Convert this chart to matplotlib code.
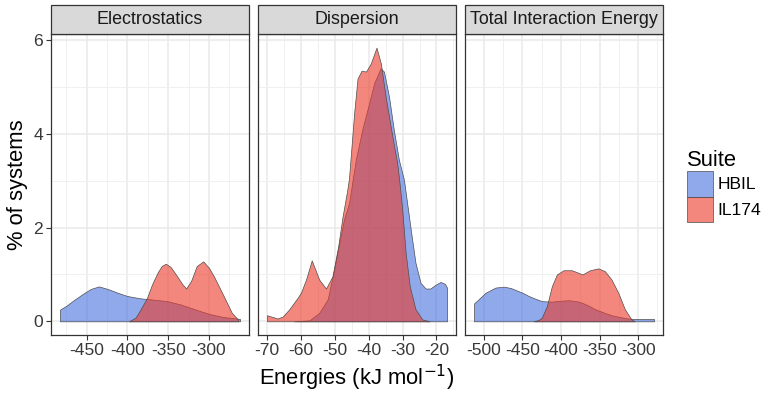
import matplotlib
matplotlib.use('Agg')
import matplotlib.pyplot as plt
from matplotlib.patches import Patch, Rectangle
from matplotlib.ticker import MultipleLocator

plt.rcParams['font.family'] = ['Liberation Sans', 'DejaVu Sans']
plt.rcParams['axes.unicode_minus'] = False

# facet names and suites
facets = ['Electrostatics', 'Dispersion', 'Total Interaction Energy']
suites = ['HBIL', 'IL174']
suite_colors = ['#4470DF', '#EB3828']

# density curves (energy in kJ/mol, % of systems)
elec_hbil_x = [-482.6, -475, -465, -455, -445, -435, -424, -412, -400, -384, -372,
               -351, -335, -323, -311, -298, -282, -266, -262]
elec_hbil_y = [0.25, 0.33, 0.46, 0.58, 0.69, 0.745, 0.69, 0.61, 0.54, 0.49, 0.47,
               0.43, 0.36, 0.29, 0.22, 0.15, 0.09, 0.06, 0.05]
elec_il174_x = [-398, -390, -384, -376, -370, -363, -358, -353, -347, -339, -333,
                -328, -322, -315, -307, -300, -294, -288, -282, -272, -264]
elec_il174_y = [0.0, 0.08, 0.25, 0.50, 0.78, 1.04, 1.18, 1.23, 1.16, 0.96, 0.80,
                0.70, 0.86, 1.18, 1.28, 1.14, 0.96, 0.75, 0.54, 0.18, 0.03]

disp_hbil_x = [-62, -57.5, -54.6, -52.1, -50.2, -48.7, -47.3, -45.8, -43.8, -41.9,
               -39.9, -38.4, -36.5, -35.5, -34, -32.6, -31.1, -29.6, -27.6, -26.2,
               -24.7, -23.2, -21.8, -20.3, -18.8, -17.5, -16.9]
disp_hbil_y = [0.0, 0.02, 0.18, 0.47, 1.1, 1.67, 2.17, 2.52, 3.45, 4.09,
               4.65, 5.08, 5.40, 5.33, 4.79, 4.09, 3.45, 3.02, 1.96, 1.25,
               0.82, 0.70, 0.70, 0.78, 0.84, 0.80, 0.72]
disp_il174_x = [-70, -66.9, -65.4, -63.4, -61, -60, -58.5, -56.8, -54.6, -52.6, -50.7,
                -49, -47.7, -46.3, -45.8, -44.3, -43.3, -42.1, -40.8, -39.4, -37.7,
                -36.4, -35, -33, -31.6, -30.9, -30.1, -29.1, -27.9, -26.2, -24.2, -22]
disp_il174_y = [0.13, 0.06, 0.10, 0.26, 0.50, 0.61, 0.89, 1.30, 0.89, 0.70, 0.96,
                1.6, 2.24, 2.81, 3.06, 4.44, 5.18, 5.35, 5.33, 5.50, 5.84,
                5.50, 4.79, 3.94, 3.38, 2.95, 2.38, 1.46, 0.75, 0.26, 0.04, 0.0]

tot_hbil_x = [-512.9, -505, -497.9, -485, -474.2, -465, -459.2, -450, -441.9, -433,
              -424.8, -412, -400, -390.3, -380, -373.2, -365, -356, -345, -334.5,
              -323, -313, -304.4, -290, -279.4]
tot_hbil_y = [0.38, 0.50, 0.61, 0.72, 0.74, 0.71, 0.67, 0.61, 0.54, 0.48,
              0.43, 0.42, 0.44, 0.45, 0.43, 0.40, 0.34, 0.26, 0.19, 0.13,
              0.09, 0.06, 0.05, 0.05, 0.05]
tot_il174_x = [-435.5, -429, -424.8, -418.3, -411.9, -405.4, -396.8, -386, -379.6,
               -372.3, -362.4, -351.6, -343.1, -334.5, -325.8, -317.3, -308.7, -304.4]
tot_il174_y = [0.0, 0.03, 0.08, 0.33, 0.75, 1.0, 1.09, 1.09, 1.05,
               1.0, 1.09, 1.13, 1.07, 0.89, 0.61, 0.26, 0.04, 0.0]

x_ticks = [[-450, -400, -350, -300], [-70, -60, -50, -40, -30, -20],
           [-500, -450, -400, -350, -300]]
y_ticks = [0, 2, 4, 6]

curves = [
    [(elec_hbil_x, elec_hbil_y), (elec_il174_x, elec_il174_y)],
    [(disp_hbil_x, disp_hbil_y), (disp_il174_x, disp_il174_y)],
    [(tot_hbil_x, tot_hbil_y), (tot_il174_x, tot_il174_y)],
]

W, H = 765, 396
fig, axes = plt.subplots(1, 3, figsize=(W / 100, H / 100), dpi=100, sharey=True)
fig.subplots_adjust(left=51 / W, right=663 / W, bottom=1 - 335 / H, top=1 - 34 / H,
                    wspace=9 / 197.6)

ymax = max(max(y) for panel in curves for _, y in panel)

for i, ax in enumerate(axes):
    for (xs, ys), col in zip(curves[i], suite_colors):
        ax.fill_between(xs, ys, 0, facecolor=matplotlib.colors.to_rgba(col, 0.6),
                        edgecolor='#4D4D4D', linewidth=0.5, zorder=3)
    allx = [v for xs, _ in curves[i] for v in xs]
    lo, hi = min(allx), max(allx)
    pad = 0.05 * (hi - lo)
    ax.set_xlim(lo - pad, hi + pad)
    ax.set_ylim(-0.05 * ymax, 1.05 * ymax)

    step = x_ticks[i][1] - x_ticks[i][0]
    ax.set_xticks(x_ticks[i])
    ax.xaxis.set_minor_locator(MultipleLocator(step / 2))
    ax.yaxis.set_minor_locator(MultipleLocator(1))
    ax.set_yticks(y_ticks)
    ax.grid(which='major', color='#EBEBEB', linewidth=1.2, zorder=0)
    ax.grid(which='minor', color='#F0F0F0', linewidth=0.7, zorder=0)
    ax.set_axisbelow(True)
    ax.tick_params(which='minor', length=0)
    ax.tick_params(which='major', length=3.5, width=0.8, color='#333333',
                   labelcolor='#383838', labelsize=12.6, pad=2)
    for s in ax.spines.values():
        s.set_color('#333333')
        s.set_linewidth(0.9)
    if i > 0:
        ax.tick_params(axis='y', which='both', length=0, labelleft=False)

    # facet strip
    ax.add_patch(Rectangle((0, 1), 1, 29 / 301, transform=ax.transAxes,
                           facecolor='#D9D9D9', edgecolor='#333333', linewidth=0.9,
                           clip_on=False, zorder=5))
    ax.text(0.5, 1 + 14.5 / 301, facets[i], transform=ax.transAxes, ha='center',
            va='center', fontsize=12.9, color='#1A1A1A', zorder=6)

axes[0].set_ylabel('% of systems', fontsize=15.8, labelpad=4)
fig.text((51 + 663) / 2 / W, 1 - 378 / H, 'Energies (kJ mol$^{-1}$)',
         ha='center', va='center', fontsize=15.8)

handles = [Patch(facecolor=matplotlib.colors.to_rgba(c, 0.6), edgecolor='#4D4D4D',
                 linewidth=0.5) for c in suite_colors]
leg = fig.legend(handles, suites, loc='upper left', bbox_to_anchor=(687 / W, 1 - 150 / H),
                 frameon=False, title='Suite', title_fontsize=15.8, fontsize=12.6,
                 handlelength=1.49, handleheight=1.87, labelspacing=0,
                 handletextpad=0.25, borderpad=0, borderaxespad=0, alignment='left')

fig.savefig('out.png', dpi=100)
